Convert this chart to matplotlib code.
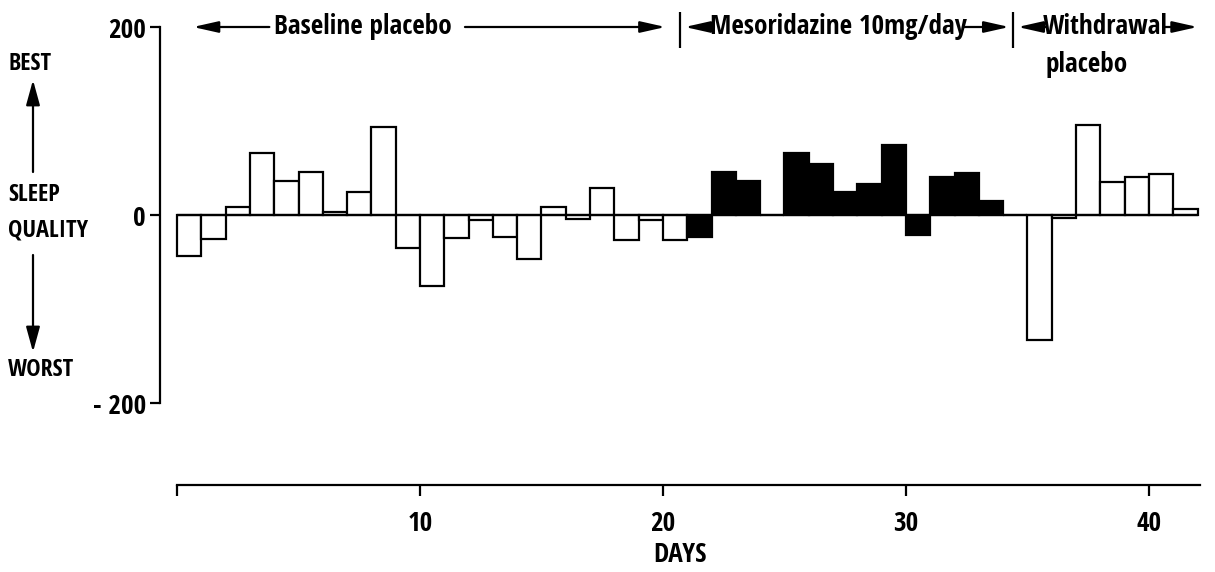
import numpy as np
import matplotlib
matplotlib.use('Agg')
import matplotlib.pyplot as plt
from matplotlib.patches import FancyArrowPatch

plt.rcParams['font.family'] = ['Open Sans Condensed', 'DejaVu Sans']
plt.rcParams['font.weight'] = 'bold'
plt.rcParams['axes.labelweight'] = 'bold'

#########################
# Data
#########################
days = np.arange(1, 43)
sleep_quality = [-44, -26, 9, 66, 36, 46, 3, 25, 94, -35,
                 -75, -24, -5, -23, -47, 9, -4, 29, -27, -5,
                 -27, -23, 46, 36, 0, 66, 54, 24, 33, 75,
                 -21, 40, 45, 15, 0, -133, -3, 96, 35, 40,
                 44, 6]
drug_first_day = 22
drug_last_day = 34
phase_labels = ['Baseline placebo', 'Mesoridazine 10mg/day', 'Withdrawal']
phase_edges = [20.7, 34.4]
xticks = [0, 10, 20, 30, 40]
xticklabels = ['', '10', '20', '30', '40']
yticks = [-200, 0, 200]
yticklabels = ['- 200', '0', '200']

W, H = 1215, 572
fig = plt.figure(figsize=(W / 100, H / 100), dpi=100)

def fx(px):
    return px / W

def fy(py):
    return 1 - py / H

xlo, xhi = -0.70, 42.1
fs = 19.5

#########################
# Bars
#########################
ax = fig.add_axes([fx(160), fy(403), fx(1200) - fx(160), fy(27) - fy(403)])
colors = ['black' if drug_first_day <= d <= drug_last_day else 'white' for d in days]
ax.bar(days - 1, sleep_quality, width=1.0, align='edge', color=colors,
       edgecolor='black', linewidth=1.6)
ax.hlines(0, days[0] - 1, days[-1], color='black', linewidth=1.6)
ax.set_xlim(xlo, xhi)
ax.set_ylim(-200, 200)
for s in ['top', 'right', 'bottom']:
    ax.spines[s].set_visible(False)
ax.spines['left'].set_linewidth(1.6)
ax.set_xticks([])
ax.set_yticks(yticks)
ax.set_yticklabels(yticklabels, fontsize=fs)
ax.tick_params(axis='y', direction='out', length=7, width=1.6, pad=3)

#########################
# Phase annotations
#########################
head = '-|>,head_length=0.8,head_width=0.18'
arr = dict(arrowstyle=head, color='black', linewidth=1.6,
           shrinkA=0, shrinkB=0, mutation_scale=19)
ty = 200
ax.text(7.65, ty, phase_labels[0], ha='center', va='center', fontsize=fs, clip_on=False)
ax.annotate('', xy=(0.66, ty), xytext=(3.8, ty), arrowprops=arr, annotation_clip=False)
ax.annotate('', xy=(20.1, ty), xytext=(11.85, ty), arrowprops=arr, annotation_clip=False)

ax.text(27.2, ty, phase_labels[1], ha='center', va='center', fontsize=fs, clip_on=False)
ax.annotate('', xy=(20.9, ty), xytext=(22.1, ty), arrowprops=arr, annotation_clip=False)
ax.annotate('', xy=(34.25, ty), xytext=(32.4, ty), arrowprops=arr, annotation_clip=False)

ax.text(38.2, ty, phase_labels[2], ha='center', va='center', fontsize=fs, clip_on=False)
ax.text(37.45, 160, 'placebo', ha='center', va='center', fontsize=fs, clip_on=False)
ax.annotate('', xy=(34.6, ty), xytext=(35.8, ty), arrowprops=arr, annotation_clip=False)
ax.annotate('', xy=(42.0, ty), xytext=(40.6, ty), arrowprops=arr, annotation_clip=False)

for xe in phase_edges:
    ax.vlines(xe, 178, 216, color='black', linewidth=1.6, clip_on=False)

#########################
# Separate day axis
#########################
axd = fig.add_axes([fx(160), fy(485), fx(1200) - fx(160), 0.001])
axd.set_xlim(xlo, xhi)
axd.set_yticks([])
for s in ['top', 'right', 'left']:
    axd.spines[s].set_visible(False)
axd.spines['bottom'].set_bounds(0, xhi)
axd.spines['bottom'].set_linewidth(1.6)
axd.set_xticks(xticks)
axd.set_xticklabels(xticklabels, fontsize=fs)
axd.tick_params(axis='x', direction='out', length=8, width=1.6, pad=10)
axd.set_xlabel('DAYS', fontsize=fs, labelpad=3)

#########################
# Left-hand labels
#########################
fig.text(fx(8), fy(64), 'BEST', ha='left', va='center', fontsize=17.5)
fig.text(fx(8), fy(195), 'SLEEP', ha='left', va='center', fontsize=17.5)
fig.text(fx(8), fy(230), 'QUALITY', ha='left', va='center', fontsize=17.5)
fig.text(fx(8), fy(370), 'WORST', ha='left', va='center', fontsize=17.5)
for y0, y1 in [(172, 80), (255, 352)]:
    fig.patches.append(FancyArrowPatch(
        (fx(33), fy(y0)), (fx(33), fy(y1)), transform=fig.transFigure,
        arrowstyle='-|>,head_length=0.8,head_width=0.22', color='black',
        linewidth=1.6, mutation_scale=19, shrinkA=0, shrinkB=0))

fig.savefig('out.png', dpi=100)
